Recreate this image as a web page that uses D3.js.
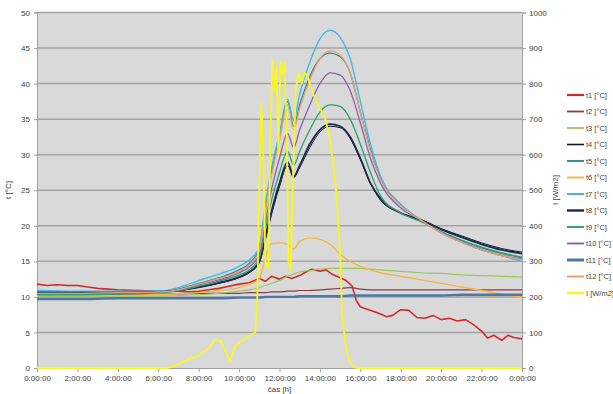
<!DOCTYPE html>
<html>
<head>
<meta charset="utf-8">
<script src="https://cdn.jsdelivr.net/npm/d3@7/dist/d3.min.js"></script>
<style>
  html, body { margin: 0; padding: 0; background: #fff; }
  svg text { font-family: "Liberation Sans", Arial, sans-serif; fill: #404040; }
</style>
</head>
<body>
<svg id="chart" width="613" height="394"></svg>
<script>
/* Temperatures t1..t12 [°C] and irradiance I [W/m2] over one day. */

// shared time base (hours) for the smooth temperature series
const hours = [0, 2, 4, 6, 7, 8, 9, 10, 10.5, 11, 11.3, 11.6, 12, 12.4, 12.7, 13, 13.5, 14, 14.5, 15, 15.5, 16, 16.5, 17, 18, 19, 20, 21, 22, 23, 24];

const t2  = [10.4, 10.4, 10.4, 10.4, 10.4, 10.5, 10.5, 10.5, 10.6, 10.6, 10.6, 10.7, 10.7, 10.8, 10.8, 10.9, 10.9, 11.0, 11.1, 11.2, 11.3, 11.1, 11.0, 11.0, 11.0, 11.0, 11.0, 11.0, 11.0, 11.0, 11.0];
const t3  = [10.0, 10.0, 10.0, 10.1, 10.2, 10.3, 10.5, 10.8, 11.0, 11.3, 11.6, 11.9, 12.3, 12.9, 13.2, 13.5, 13.7, 13.9, 14.0, 14.0, 14.0, 14.0, 13.9, 13.8, 13.6, 13.4, 13.3, 13.1, 13.0, 12.9, 12.8];
const t4  = [10.6, 10.5, 10.6, 10.7, 10.9, 11.3, 11.9, 12.7, 13.4, 14.8, 18.0, 21.5, 25.5, 28.5, 26.8, 28.2, 31.0, 33.2, 34.0, 33.8, 32.3, 29.3, 26.0, 23.6, 21.8, 20.9, 19.6, 18.6, 17.6, 16.8, 16.3];
const t5  = [10.7, 10.7, 10.7, 10.8, 11.1, 11.9, 12.7, 13.8, 14.7, 16.8, 22.5, 27.5, 32.5, 37.5, 34.0, 37.0, 41.0, 43.5, 44.3, 43.8, 41.5, 36.0, 30.8, 26.7, 23.0, 20.8, 19.1, 17.9, 16.9, 16.1, 15.5];
const t6  = [10.2, 10.2, 10.2, 10.3, 10.4, 10.6, 10.9, 11.3, 11.8, 12.5, 15.5, 17.5, 17.6, 17.4, 16.7, 17.8, 18.3, 18.1, 17.4, 16.0, 15.0, 14.3, 13.8, 13.4, 12.9, 12.4, 11.9, 11.4, 10.9, 10.4, 10.0];
const t7  = [10.9, 10.8, 10.8, 10.8, 11.3, 12.3, 13.2, 14.3, 15.2, 17.0, 23.0, 28.0, 33.0, 37.8, 34.8, 38.5, 43.0, 46.3, 47.5, 46.5, 43.5, 37.5, 31.5, 27.0, 23.0, 20.8, 19.1, 17.8, 16.7, 15.8, 15.0];
const t8  = [10.6, 10.6, 10.6, 10.7, 10.9, 11.4, 12.0, 12.8, 13.5, 15.0, 18.5, 22.0, 26.0, 29.0, 26.9, 28.5, 31.5, 33.5, 34.3, 34.0, 32.5, 29.5, 26.0, 23.8, 21.8, 20.8, 19.5, 18.4, 17.4, 16.6, 16.1];
const t9  = [10.3, 10.3, 10.4, 10.6, 10.9, 11.5, 12.2, 13.1, 13.8, 15.5, 19.5, 23.5, 27.5, 30.5, 28.5, 30.5, 33.5, 36.0, 37.0, 36.8, 35.0, 31.5, 27.5, 24.2, 21.8, 20.6, 19.2, 18.0, 17.0, 16.2, 15.6];
const t10 = [10.5, 10.5, 10.6, 10.7, 11.0, 11.7, 12.4, 13.4, 14.2, 16.0, 20.5, 25.0, 29.5, 33.0, 31.0, 33.5, 37.0, 40.0, 41.5, 41.2, 39.0, 34.5, 29.5, 26.0, 22.5, 20.8, 19.0, 17.7, 16.6, 15.8, 15.3];
const t11 = [9.7, 9.7, 9.8, 9.8, 9.8, 9.8, 9.8, 9.9, 9.9, 9.9, 10.0, 10.0, 10.0, 10.0, 10.0, 10.1, 10.1, 10.1, 10.1, 10.1, 10.2, 10.2, 10.2, 10.2, 10.2, 10.2, 10.2, 10.3, 10.3, 10.3, 10.3];
const t12 = [10.5, 10.5, 10.6, 10.7, 11.0, 11.8, 12.6, 13.6, 14.5, 16.5, 22.0, 27.0, 32.0, 37.0, 33.5, 36.5, 40.5, 43.5, 44.6, 44.0, 41.5, 36.0, 30.5, 26.5, 22.8, 20.8, 19.0, 17.7, 16.6, 15.8, 15.2];

// t1 is noisier, so it has its own time base
const t1Hours = [0, 0.5, 1, 1.5, 2, 2.5, 3, 3.5, 4, 5, 6, 7, 7.5, 8, 8.5, 9, 9.5, 10, 10.5, 11, 11.3, 11.6, 12, 12.3, 12.6, 13, 13.3, 13.6, 14, 14.3, 14.6, 15, 15.3, 15.6, 15.8, 16, 16.3, 16.6, 17, 17.3, 17.6, 18, 18.4, 18.8, 19.2, 19.6, 20, 20.4, 20.8, 21.2, 21.6, 22, 22.3, 22.6, 23, 23.3, 23.6, 24];
const t1 = [11.8, 11.6, 11.7, 11.6, 11.6, 11.4, 11.2, 11.1, 11.0, 10.9, 10.8, 10.8, 10.7, 10.8, 11.0, 11.2, 11.5, 11.8, 12.0, 12.6, 12.2, 12.9, 12.5, 12.9, 12.6, 13.0, 13.5, 13.9, 13.6, 13.8, 13.2, 12.7, 12.3, 11.5, 9.5, 8.6, 8.3, 8.0, 7.6, 7.2, 7.4, 8.2, 8.1, 7.1, 7.0, 7.4, 6.8, 7.0, 6.6, 6.8, 6.1, 5.2, 4.2, 4.6, 3.9, 4.6, 4.3, 4.1];

// irradiance on the secondary axis
const iHours = [0, 6.5, 7, 7.5, 8, 8.5, 8.8, 9.1, 9.3, 9.55, 9.8, 10.1, 10.5, 10.8, 10.9, 11.0, 11.1, 11.2, 11.3, 11.45, 11.55, 11.65, 11.75, 11.85, 11.95, 12.05, 12.15, 12.25, 12.35, 12.45, 12.55, 12.65, 12.8, 12.95, 13.1, 13.25, 13.4, 13.6, 13.9, 14.25, 14.5, 14.65, 14.8, 15.0, 15.1, 15.3, 15.5, 15.8, 24];
const irr = [0, 0, 10, 25, 35, 55, 80, 75, 50, 20, 60, 75, 90, 100, 200, 500, 745, 600, 300, 280, 650, 866, 780, 850, 600, 860, 830, 860, 700, 300, 275, 500, 780, 833, 800, 830, 820, 780, 740, 706, 640, 576, 500, 330, 150, 50, 15, 0, 0];

const seriesNames = ["t1 [°C]", "t2 [°C]", "t3 [°C]", "t4 [°C]", "t5 [°C]", "t6 [°C]", "t7 [°C]", "t8 [°C]", "t9 [°C]", "t10 [°C]", "t11 [°C]", "t12 [°C]", "I [W/m2]"];
const xTickLabels = ["0:00:00", "2:00:00", "4:00:00", "6:00:00", "8:00:00", "10:00:00", "12:00:00", "14:00:00", "16:00:00", "18:00:00", "20:00:00", "22:00:00", "0:00:00"];

const colors = ["#d42a2a", "#8c3a4a", "#9bc75a", "#141428", "#2c8a8a", "#f0b840", "#44b8e8", "#1c2850", "#28a070", "#8a60b0", "#4a78a8", "#e8a070", "#f8f820"];
const widths = [1.6, 1.2, 1.2, 1.0, 1.3, 1.4, 1.4, 1.8, 1.3, 1.3, 2.4, 1.3, 1.8];

const svg = d3.select("#chart");
const L = 37, R = 522, T = 12.5, B = 368;

const x = d3.scaleLinear().domain([0, 24]).range([L, R]);
const yT = d3.scaleLinear().domain([0, 50]).range([B, T]);
const yI = d3.scaleLinear().domain([0, 1000]).range([B, T]);

svg.append("rect").attr("x", L).attr("y", T).attr("width", R - L).attr("height", B - T)
  .attr("fill", "#d9d9d9");

// horizontal gridlines
svg.append("g").selectAll("line").data(d3.range(5, 55, 5)).join("line")
  .attr("x1", L).attr("x2", R).attr("y1", d => yT(d)).attr("y2", d => yT(d))
  .attr("stroke", "#a3a3a3").attr("stroke-width", 1.5);

// left axis
const gL = svg.append("g").attr("transform", `translate(${L},0)`)
  .call(d3.axisLeft(yT).tickValues(d3.range(0, 55, 5)).tickSize(3).tickPadding(4));
// right axis
const gR = svg.append("g").attr("transform", `translate(${R},0)`)
  .call(d3.axisRight(yI).tickValues(d3.range(0, 1100, 100)).tickFormat(d3.format("d")).tickSize(4).tickPadding(3));
// bottom axis
const gB = svg.append("g").attr("transform", `translate(0,${B})`)
  .call(d3.axisBottom(x).tickValues(d3.range(0, 26, 2)).tickFormat((d, i) => xTickLabels[i]).tickSize(4).tickPadding(3));

[gL, gR, gB].forEach(g => {
  g.select(".domain").attr("stroke", "#a0a0a0");
  g.selectAll(".tick line").attr("stroke", "#a0a0a0");
  g.selectAll("text").attr("font-size", 8).attr("fill", "#404040")
    .style("font-family", "'Liberation Sans', Arial, sans-serif");
});

// axis titles
svg.append("text").attr("transform", "translate(11,190) rotate(-90)")
  .attr("text-anchor", "middle").attr("font-size", 8).text("t [°C]");
svg.append("text").attr("transform", "translate(558,190) rotate(-90)")
  .attr("text-anchor", "middle").attr("font-size", 8).text("I [W/m2]");
svg.append("text").attr("x", (L + R) / 2).attr("y", 392)
  .attr("text-anchor", "middle").attr("font-size", 8).text("čas [h]");

// series
const tempSeries = [t1, t2, t3, t4, t5, t6, t7, t8, t9, t10, t11, t12];
const smooth = d3.line().x(d => x(d[0])).y(d => yT(d[1])).curve(d3.curveMonotoneX);
const rough = d3.line().x(d => x(d[0])).y(d => yT(d[1])).curve(d3.curveLinear);
const irrLine = d3.line().x(d => x(d[0])).y(d => yI(d[1])).curve(d3.curveLinear);

const plot = svg.append("g");
tempSeries.forEach((vals, i) => {
  const hrs = i === 0 ? t1Hours : hours;
  const pts = hrs.map((h, k) => [h, vals[k]]);
  plot.append("path").attr("d", (i === 0 ? rough : smooth)(pts))
    .attr("fill", "none").attr("stroke", colors[i]).attr("stroke-width", widths[i])
    .attr("stroke-linejoin", "round");
});
plot.append("path").attr("d", irrLine(iHours.map((h, k) => [h, irr[k]])))
  .attr("fill", "none").attr("stroke", colors[12]).attr("stroke-width", widths[12])
  .attr("stroke-linejoin", "round");

// legend
const leg = svg.append("g").selectAll("g").data(seriesNames).join("g")
  .attr("transform", (d, i) => `translate(567,${95 + i * 16.5})`);
leg.append("line").attr("x1", 0).attr("x2", 17).attr("y1", 0).attr("y2", 0)
  .attr("stroke", (d, i) => colors[i])
  .attr("stroke-width", (d, i) => Math.max(1.2, widths[i] + 0.6));
leg.append("text").attr("x", 19).attr("y", 2.8).attr("font-size", 7.5).text(d => d);
</script>
</body>
</html>
